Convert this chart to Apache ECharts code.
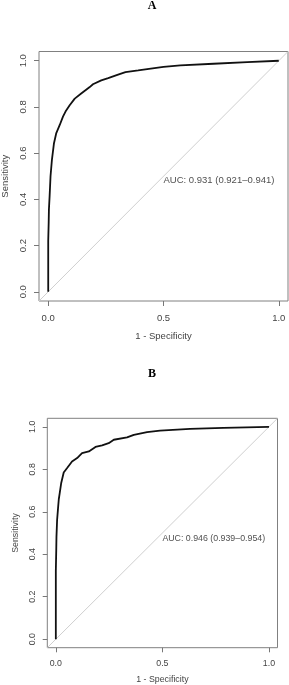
<!DOCTYPE html>
<html>
<head>
<meta charset="utf-8">
<script src="https://cdn.jsdelivr.net/npm/echarts@6/dist/echarts.min.js"></script>
<style>
html,body{margin:0;padding:0;background:#fff;}
#c{width:289px;height:685px;}
</style>
</head>
<body>
<div id="c"></div>
<script>
// Panel A ROC curve (1 - specificity, sensitivity)
var fprA = [0, 0, 0.002, 0.003, 0.006, 0.010, 0.016, 0.025, 0.035, 0.050, 0.064, 0.075, 0.093, 0.115, 0.143, 0.180, 0.194, 0.230, 0.260, 0.303, 0.335, 0.390, 0.500, 0.573, 0.717, 0.863, 1.0];
var tprA = [0, 0.22, 0.30, 0.355, 0.413, 0.500, 0.571, 0.643, 0.687, 0.722, 0.758, 0.780, 0.807, 0.836, 0.858, 0.886, 0.898, 0.915, 0.925, 0.940, 0.951, 0.958, 0.973, 0.980, 0.987, 0.994, 1.0];
// Panel B ROC curve
var fprB = [0, 0, 0.002, 0.003, 0.006, 0.011, 0.014, 0.017, 0.025, 0.037, 0.053, 0.076, 0.100, 0.123, 0.155, 0.186, 0.217, 0.248, 0.272, 0.334, 0.366, 0.428, 0.489, 0.630, 0.786, 1.0];
var tprB = [0, 0.32, 0.42, 0.483, 0.561, 0.624, 0.660, 0.679, 0.734, 0.785, 0.806, 0.837, 0.853, 0.876, 0.884, 0.905, 0.913, 0.923, 0.939, 0.950, 0.962, 0.975, 0.982, 0.990, 0.995, 1.0];

var panelTitles = ['A', 'B'];
var aucTexts = ['AUC: 0.931 (0.921\u20130.941)', 'AUC: 0.946 (0.939\u20130.954)'];
var aucPos = [[0.5, 0.48], [0.5, 0.473]];
var xTicks = [0, 0.5, 1];
var yTicks = [0, 0.2, 0.4, 0.6, 0.8, 1];
var diag = [-0.04, 1.04];
var axisRange = [-0.04, 1.04];
var xName = '1 - Specificity';
var yName = 'Sensitivity';

function zip(a, b) { return a.map(function (v, i) { return [v, b[i]]; }); }

var grids = [
  {left: 39, top: 51.5, width: 249, height: 249.5},
  {left: 47.3, top: 418.3, width: 230.2, height: 229.4}
];
var fs = [9.5, 8.8];
var tickLen = [5, 4.6];
var xMargin = [12, 11.5];
var yMargin = [11, 10.5];
var xGap = [30, 27.5];
var yGap = [29, 27.5];
var FONT = '"Liberation Sans", Arial, sans-serif';

var xAxes = [], yAxes = [], series = [];
[0, 1].forEach(function (i) {
  xAxes.push({
    type: 'value', gridIndex: i, min: axisRange[0], max: axisRange[1], position: 'bottom',
    axisLine: {show: false, onZero: false}, splitLine: {show: false},
    axisTick: {show: true, inside: false, customValues: xTicks, length: tickLen[i], lineStyle: {color: '#777', width: 1}},
    axisLabel: {customValues: xTicks, margin: xMargin[i], fontSize: fs[i], color: '#444', fontFamily: FONT,
      formatter: function (v) { return v.toFixed(1); }},
    name: xName, nameLocation: 'middle', nameGap: xGap[i],
    nameTextStyle: {fontSize: fs[i], color: '#444', fontFamily: FONT}
  });
  yAxes.push({
    type: 'value', gridIndex: i, min: axisRange[0], max: axisRange[1], position: 'left',
    axisLine: {show: false, onZero: false}, splitLine: {show: false},
    axisTick: {show: true, inside: false, customValues: yTicks, length: tickLen[i], lineStyle: {color: '#777', width: 1}},
    axisLabel: {customValues: yTicks, rotate: 90, margin: yMargin[i], fontSize: fs[i], color: '#444', fontFamily: FONT,
      formatter: function (v) { return v.toFixed(1); }},
    name: yName, nameLocation: 'middle', nameGap: yGap[i],
    nameTextStyle: {fontSize: fs[i], color: '#444', fontFamily: FONT}
  });
  series.push({
    type: 'line', xAxisIndex: i, yAxisIndex: i, symbol: 'none', silent: true,
    data: [[diag[0], diag[0]], [diag[1], diag[1]]],
    lineStyle: {color: '#cfcfcf', width: 1}, z: 1
  });
  series.push({
    type: 'line', xAxisIndex: i, yAxisIndex: i, symbol: 'none', silent: true,
    data: i === 0 ? zip(fprA, tprA) : zip(fprB, tprB),
    lineStyle: {color: '#111', width: 1.8}, z: 3
  });
  series.push({
    type: 'scatter', xAxisIndex: i, yAxisIndex: i, symbolSize: 0, silent: true,
    data: [aucPos[i]],
    label: {show: true, position: [0, 0], align: 'left', verticalAlign: 'middle',
      formatter: aucTexts[i], fontSize: fs[i], color: '#222', fontFamily: FONT}
  });
});

var chart = echarts.init(document.getElementById('c'), null, {renderer: 'canvas'});
chart.setOption({
  animation: false,
  backgroundColor: '#fff',
  grid: grids.map(function (g) {
    return Object.assign({show: true, borderColor: '#808080', borderWidth: 1, backgroundColor: 'transparent',
      containLabel: false, outerBoundsMode: 'none'}, g);
  }),
  xAxis: xAxes,
  yAxis: yAxes,
  series: series,
  graphic: [
    {type: 'text', x: 152, y: 6, style: {text: panelTitles[0], fontSize: 12, fontWeight: 'bold',
      fontFamily: '"Liberation Serif", "Times New Roman", serif', fill: '#000', textAlign: 'center', textVerticalAlign: 'middle'}},
    {type: 'text', x: 152, y: 373.5, style: {text: panelTitles[1], fontSize: 12, fontWeight: 'bold',
      fontFamily: '"Liberation Serif", "Times New Roman", serif', fill: '#000', textAlign: 'center', textVerticalAlign: 'middle'}}
  ]
});
</script>
</body>
</html>
